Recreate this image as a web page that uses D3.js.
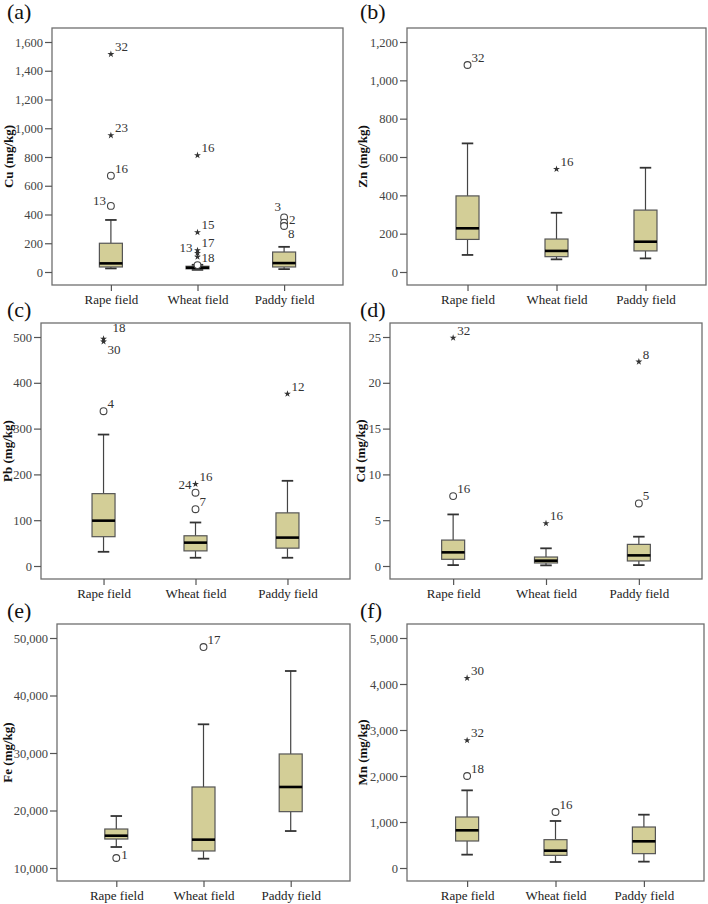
<!DOCTYPE html>
<html>
<head>
<meta charset="utf-8">
<script src="https://cdn.jsdelivr.net/npm/d3@7"></script>
<style>
  html, body { margin: 0; padding: 0; background: #fff; }
  svg { display: block; }
</style>
</head>
<body>
<svg id="chart" width="708" height="904"></svg>
<script>
// ---------------- DATA ----------------
const categories = ["Rape field", "Wheat field", "Paddy field"];

// box stats per category: [lower whisker, Q1, median, Q3, upper whisker]
const cuBoxes = [[25, 35, 60, 200, 362], [15, 22, 30, 40, 50], [20, 35, 62, 139, 175]];
const cuOutliers = [
  { cat: 0, value: 1515, type: "star", label: "32" },
  { cat: 0, value: 950, type: "star", label: "23" },
  { cat: 0, value: 670, type: "circle", label: "16" },
  { cat: 0, value: 460, type: "circle", label: "13" },
  { cat: 1, value: 812, type: "star", label: "16" },
  { cat: 1, value: 276, type: "star", label: "15" },
  { cat: 1, value: 150, type: "star", label: "17" },
  { cat: 1, value: 132, type: "star", label: "13" },
  { cat: 1, value: 106, type: "star", label: "" },
  { cat: 1, value: 48, type: "circle", label: "18" },
  { cat: 2, value: 380, type: "circle", label: "3" },
  { cat: 2, value: 343, type: "circle", label: "2" },
  { cat: 2, value: 320, type: "circle", label: "8" }
];
const cuTicks = [0, 200, 400, 600, 800, 1000, 1200, 1400, 1600];

const znBoxes = [[89, 170, 228, 397, 671], [66, 80, 110, 172, 309], [71, 110, 158, 323, 544]];
const znOutliers = [
  { cat: 0, value: 1080, type: "circle", label: "32" },
  { cat: 1, value: 537, type: "star", label: "16" }
];
const znTicks = [0, 200, 400, 600, 800, 1000, 1200];

const pbBoxes = [[31, 64, 99, 158, 287], [18, 33, 51, 66, 95], [18, 39, 62, 116, 186]];
const pbOutliers = [
  { cat: 0, value: 496, type: "star", label: "18" },
  { cat: 0, value: 490, type: "star", label: "30" },
  { cat: 0, value: 338, type: "circle", label: "4" },
  { cat: 1, value: 179, type: "star", label: "16" },
  { cat: 1, value: 160, type: "circle", label: "24" },
  { cat: 1, value: 124, type: "circle", label: "7" },
  { cat: 2, value: 376, type: "star", label: "12" }
];
const pbTicks = [0, 100, 200, 300, 400, 500];

const cdBoxes = [[0.1, 0.73, 1.49, 2.83, 5.63], [0.07, 0.33, 0.58, 0.98, 1.93], [0.1, 0.55, 1.16, 2.36, 3.2]];
const cdOutliers = [
  { cat: 0, value: 24.9, type: "star", label: "32" },
  { cat: 0, value: 7.63, type: "circle", label: "16" },
  { cat: 1, value: 4.65, type: "star", label: "16" },
  { cat: 2, value: 22.3, type: "star", label: "8" },
  { cat: 2, value: 6.83, type: "circle", label: "5" }
];
const cdTicks = [0, 5, 10, 15, 20, 25];

const feBoxes = [[13650, 15040, 15620, 16780, 19040], [11620, 12960, 14930, 24090, 34990], [16430, 19800, 24090, 29830, 44260]];
const feOutliers = [
  { cat: 0, value: 11740, type: "circle", label: "1" },
  { cat: 1, value: 48430, type: "circle", label: "17" }
];
const feTicks = [10000, 20000, 30000, 40000, 50000];

const mnBoxes = [[290, 587, 819, 1109, 1688], [130, 275, 377, 616, 1022], [138, 312, 580, 891, 1159]];
const mnOutliers = [
  { cat: 0, value: 4130, type: "star", label: "30" },
  { cat: 0, value: 2775, type: "star", label: "32" },
  { cat: 0, value: 2000, type: "circle", label: "18" },
  { cat: 1, value: 1217, type: "circle", label: "16" }
];
const mnTicks = [0, 1000, 2000, 3000, 4000, 5000];

// ---------------- LAYOUT ----------------
const panels = [
  { tag: "(a)", title: "Cu (mg/kg)", boxes: cuBoxes, outliers: cuOutliers, ticks: cuTicks,
    fx0: 52, fx1: 343, fy0: 28, fy1: 285, ry0: 272, ry1: 42, tagX: 7, tagY: 19, titleX: 13 },
  { tag: "(b)", title: "Zn (mg/kg)", boxes: znBoxes, outliers: znOutliers, ticks: znTicks,
    fx0: 407, fx1: 706, fy0: 28, fy1: 285, ry0: 272, ry1: 42, tagX: 360, tagY: 19, titleX: 367 },
  { tag: "(c)", title: "Pb (mg/kg)", boxes: pbBoxes, outliers: pbOutliers, ticks: pbTicks,
    fx0: 41, fx1: 350, fy0: 323, fy1: 579, ry0: 566, ry1: 337, tagX: 7, tagY: 317, titleX: 12 },
  { tag: "(d)", title: "Cd (mg/kg)", boxes: cdBoxes, outliers: cdOutliers, ticks: cdTicks,
    fx0: 390, fx1: 702, fy0: 323, fy1: 579, ry0: 566, ry1: 337, tagX: 360, tagY: 317, titleX: 365 },
  { tag: "(e)", title: "Fe (mg/kg)", boxes: feBoxes, outliers: feOutliers, ticks: feTicks,
    fx0: 57, fx1: 350, fy0: 624, fy1: 881, ry0: 868, ry1: 638, tagX: 7, tagY: 618, titleX: 12 },
  { tag: "(f)", title: "Mn (mg/kg)", boxes: mnBoxes, outliers: mnOutliers, ticks: mnTicks,
    fx0: 407, fx1: 704, fy0: 624, fy1: 881, ry0: 868, ry1: 638, tagX: 360, tagY: 618, titleX: 367 }
];

// label placement tweaks (panel tag + label) -> anchor mode
const labelPlacement = {
  "(a)-13": "left", "(a)-3": "upleft", "(a)-8": "below", "(a)-2": "right",
  "(c)-24": "leftstar", "(c)-30": "below", "(c)-18": "above",
  "(e)-1": "rightlow"
};

const FONT = "'Liberation Serif', 'Times New Roman', serif";
const BOX_FILL = "#d3ce97";
const svg = d3.select("#chart");
svg.append("rect").attr("width", 708).attr("height", 904).attr("fill", "#fff");

panels.forEach(p => {
  const g = svg.append("g");
  const yMin = p.ticks[0], yMax = p.ticks[p.ticks.length - 1];
  const y = d3.scaleLinear().domain([yMin, yMax]).range([p.ry0, p.ry1]);
  const x = d3.scalePoint().domain(categories).range([p.fx0, p.fx1]).padding(0.68);

  // frame
  g.append("rect")
    .attr("x", p.fx0).attr("y", p.fy0)
    .attr("width", p.fx1 - p.fx0).attr("height", p.fy1 - p.fy0)
    .attr("fill", "none").attr("stroke", "#6f6f6f").attr("stroke-width", 1.3);

  // y axis
  const yAxis = d3.axisLeft(y).tickValues(p.ticks).tickSize(7).tickPadding(2)
    .tickFormat(d3.format(","));
  const ya = g.append("g").attr("transform", `translate(${p.fx0},0)`).call(yAxis);
  ya.select(".domain").remove();
  ya.selectAll(".tick line").attr("stroke", "#555").attr("stroke-width", 1.2);
  ya.selectAll(".tick text").attr("font-family", FONT).attr("font-size", 12.5).attr("fill", "#444");

  // x axis
  const xAxis = d3.axisBottom(x).tickSize(6).tickPadding(4);
  const xa = g.append("g").attr("transform", `translate(0,${p.fy1})`).call(xAxis);
  xa.select(".domain").remove();
  xa.selectAll(".tick line").attr("stroke", "#555").attr("stroke-width", 1.2);
  xa.selectAll(".tick text").attr("font-family", FONT).attr("font-size", 13).attr("fill", "#222");

  // y title
  g.append("text")
    .attr("transform", `translate(${p.titleX},${(p.fy0 + p.fy1) / 2}) rotate(-90)`)
    .attr("text-anchor", "middle")
    .attr("font-family", FONT).attr("font-weight", "bold").attr("font-size", 13)
    .attr("fill", "#111")
    .text(p.title);

  // panel tag
  g.append("text")
    .attr("x", p.tagX).attr("y", p.tagY)
    .attr("font-family", FONT).attr("font-size", 22).attr("fill", "#111")
    .text(p.tag);

  // boxes
  const bw = 23, cw = 11.5;
  categories.forEach((c, i) => {
    const [lo, q1, med, q3, hi] = p.boxes[i];
    const cx = x(c);
    const bg = g.append("g");
    bg.append("line").attr("x1", cx).attr("x2", cx).attr("y1", y(q3)).attr("y2", y(hi))
      .attr("stroke", "#444").attr("stroke-width", 1.2);
    bg.append("line").attr("x1", cx).attr("x2", cx).attr("y1", y(q1)).attr("y2", y(lo))
      .attr("stroke", "#444").attr("stroke-width", 1.2);
    bg.append("line").attr("x1", cx - cw / 2).attr("x2", cx + cw / 2).attr("y1", y(hi)).attr("y2", y(hi))
      .attr("stroke", "#333").attr("stroke-width", 1.8);
    bg.append("line").attr("x1", cx - cw / 2).attr("x2", cx + cw / 2).attr("y1", y(lo)).attr("y2", y(lo))
      .attr("stroke", "#333").attr("stroke-width", 1.8);
    bg.append("rect").attr("x", cx - bw / 2).attr("y", y(q3))
      .attr("width", bw).attr("height", Math.max(1, y(q1) - y(q3)))
      .attr("fill", BOX_FILL).attr("stroke", "#555").attr("stroke-width", 1.2);
    bg.append("line").attr("x1", cx - bw / 2).attr("x2", cx + bw / 2).attr("y1", y(med)).attr("y2", y(med))
      .attr("stroke", "#000").attr("stroke-width", 2.6);
  });

  // outliers
  p.outliers.forEach(o => {
    const cx = x(categories[o.cat]);
    const cy = y(o.value);
    if (o.type === "circle") {
      g.append("circle").attr("cx", cx).attr("cy", cy).attr("r", 3.4)
        .attr("fill", "#fff").attr("stroke", "#444").attr("stroke-width", 1.1);
    } else {
      g.append("path").attr("transform", `translate(${cx},${cy})`)
        .attr("d", d3.symbol(d3.symbolStar, 15)())
        .attr("fill", "#333");
    }
    if (o.label) {
      const mode = labelPlacement[`${p.tag}-${o.label}`] || "default";
      let lx = cx + 4, ly = cy - 3, anchor = "start";
      if (mode === "left") { lx = cx - 5; ly = cy - 1; anchor = "end"; }
      if (mode === "leftstar") { lx = cx - 4; ly = cy - 4; anchor = "end"; }
      if (mode === "upleft") { lx = cx - 3; ly = cy - 6; anchor = "end"; }
      if (mode === "below") { lx = cx + 4; ly = cy + 12; }
      if (mode === "right") { lx = cx + 5; ly = cy + 1; }
      if (mode === "above") { lx = cx + 9; ly = cy - 7; }
      if (mode === "rightlow") { lx = cx + 5; ly = cy + 1; }
      g.append("text").attr("x", lx).attr("y", ly).attr("text-anchor", anchor)
        .attr("font-family", FONT).attr("font-size", 13).attr("fill", "#333")
        .text(o.label);
    }
  });
});
</script>
</body>
</html>
